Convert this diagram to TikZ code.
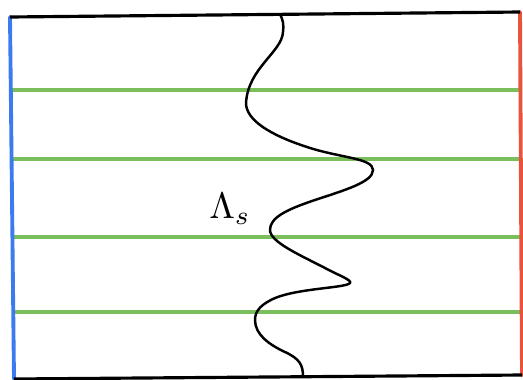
\documentclass[tikz,border=0pt]{standalone}
\usepackage{amsmath,amssymb}
\usepackage{tikz}
\usepackage{xcolor}
\definecolor{leftwall}{HTML}{3C7AF0}
\definecolor{rightwall}{HTML}{E8533C}
\definecolor{layer}{HTML}{7BBF5C}
\definecolor{ink}{HTML}{000000}
\tikzset{
  wall/.style={line width=2.2pt,line cap=round},
  edge/.style={draw=ink,line width=1.8pt},
  layerline/.style={draw=layer,line width=2pt},
  profile/.style={draw=ink,line width=1.4pt},
  lbl/.style={inner sep=0pt,scale=2.1}
}
\begin{document}
\begin{tikzpicture}[x=0.02cm,y=-0.02cm]
  \useasboundingbox (0,0) rectangle (523,379);
  % corners of the domain
  \coordinate (tl) at (10,17);
  \coordinate (bl) at (14,379);
  \coordinate (tr) at (520,12);
  \coordinate (br) at (522,375);

  % horizontal layers
  \foreach \y [count=\i] in {90,159,237,312}{
    \coordinate (la\i) at (12,\y);
    \coordinate (lb\i) at (521,\y);
    \draw[layerline] (la\i) -- (lb\i);
  }

  % side walls
  \draw[wall,draw=leftwall] (tl) -- (bl);
  \draw[wall,draw=rightwall] (tr) -- (br);

  % top and bottom
  \draw[edge] (tl) -- (tr);
  \draw[edge] (bl) -- (br);

  % the profile, top to bottom
  \draw[profile] (280,14) .. controls (283,20) and (284,25) .. (283,32)
    .. controls (282,52) and (248,68) .. (246,103)
    .. controls (246,120) and (270,135) .. (307,147)
    .. controls (340,158) and (373,158) .. (373,170)
    .. controls (373,182) and (345,190) .. (315,200)
    .. controls (285,210) and (270,218) .. (270,230)
    .. controls (270,242) and (300,255) .. (325,268)
    .. controls (340,276) and (352,280) .. (350,283)
    .. controls (346,288) and (300,288) .. (275,298)
    .. controls (262,304) and (255,310) .. (255,320)
    .. controls (255,335) and (270,345) .. (285,352)
    .. controls (300,359) and (303,365) .. (303,377);

  \node[lbl] (lam) at (230,209) {$\Lambda_s$};
\end{tikzpicture}
\end{document}
